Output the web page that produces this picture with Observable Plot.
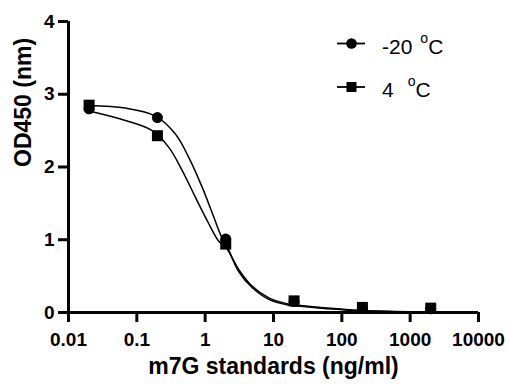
<!DOCTYPE html>
<html>
<head>
<meta charset="utf-8">
<script src="https://cdn.jsdelivr.net/npm/d3@7"></script>
<script src="https://cdn.jsdelivr.net/npm/@observablehq/plot@0.6"></script>
<style>
  html, body { margin: 0; padding: 0; background: #fff; }
  svg { display: block; }
</style>
</head>
<body>
<div id="chart"></div>
<script>
// ---- data ----
const seriesNames = ["-20", "4"];          // temperatures (°C)
const concentrations = [0.02, 0.2, 2, 20, 200, 2000];   // ng/ml
const odNeg20 = [2.80, 2.68, 1.01, 0.15, 0.06, 0.05];
const od4 = [2.85, 2.43, 0.94, 0.16, 0.07, 0.06];

// fitted curves
const fitXNeg20 = [0.02, 0.068, 0.188, 0.369, 0.577, 0.906, 1.34, 1.68, 2.0, 3.11, 4.9, 8.57, 16.8, 25, 49, 96, 170, 600, 2000];
const fitYNeg20 = [2.845, 2.81, 2.70, 2.45, 2.13, 1.72, 1.31, 1.07, 0.95, 0.56, 0.34, 0.18, 0.10, 0.085, 0.06, 0.04, 0.025, 0.012, 0.008];
const fitX4 = [0.02, 0.068, 0.168, 0.294, 0.462, 0.723, 1.13, 1.58, 2.0, 3.11, 4.9, 8.57, 16.8, 25, 49, 96, 170, 600, 2000];
const fitY4 = [2.77, 2.64, 2.50, 2.27, 1.95, 1.58, 1.22, 0.98, 0.90, 0.59, 0.36, 0.20, 0.115, 0.095, 0.07, 0.048, 0.03, 0.015, 0.01];

const xTicks = [0.01, 0.1, 1, 10, 100, 1000, 10000];
const yTicks = [0, 1, 2, 3, 4];
const xTitle = "m7G standards (ng/ml)";
const yTitle = "OD450 (nm)";

// ---- build tables ----
const pts = (xs, ys, s) => xs.map((x, i) => ({x, y: ys[i], s}));
const pNeg20 = pts(concentrations, odNeg20, seriesNames[0]);
const p4 = pts(concentrations, od4, seriesNames[1]);
const fNeg20 = pts(fitXNeg20, fitYNeg20, seriesNames[0]);
const f4 = pts(fitX4, fitY4, seriesNames[1]);

const FONT = "'Liberation Sans', Arial, Helvetica, sans-serif";

const svg = Plot.plot({
  width: 509,
  height: 390,
  marginTop: 21,
  marginBottom: 78,
  marginLeft: 68,
  marginRight: 31,
  style: {fontFamily: FONT, fontSize: "19px", fontWeight: "bold", color: "black", background: "white"},
  x: {type: "log", domain: [0.01, 10000]},
  y: {domain: [0, 4]},
  marks: [
    Plot.line(fNeg20, {x: "x", y: "y", curve: "catmull-rom", stroke: "black", strokeWidth: 1.5}),
    Plot.line(f4, {x: "x", y: "y", curve: "catmull-rom", stroke: "black", strokeWidth: 1.5}),
    Plot.dot(pNeg20, {x: "x", y: "y", symbol: "circle", r: 5.5, fill: "black", stroke: null}),
    Plot.dot(p4, {x: "x", y: "y", symbol: "square", r: 6.2, fill: "black", stroke: null}),
    Plot.ruleX([0.01], {stroke: "black", strokeWidth: 3}),
    Plot.ruleY([0], {stroke: "black", strokeWidth: 3}),
    Plot.axisX({ticks: xTicks, tickFormat: d => String(d), tickSize: 10, tickPadding: 10, strokeWidth: 3, fontSize: 19, fontWeight: "bold", label: null}),
    Plot.axisY({ticks: yTicks, tickFormat: d => String(d), tickSize: 10, tickPadding: 4, strokeWidth: 3, fontSize: 19, fontWeight: "bold", label: null}),
    Plot.text([xTitle], {text: d => d, frameAnchor: "bottom", dy: 61, fontSize: 23, fontWeight: "bold"}),
    Plot.text([yTitle], {text: d => d, frameAnchor: "left", rotate: -90, dx: -45, fontSize: 23, fontWeight: "bold"})
  ]
});

// ---- legend ----
const leg = d3.select(svg).append("g")
  .attr("font-family", FONT).attr("font-size", 21).attr("font-weight", "normal")
  .attr("fill", "black").attr("text-anchor", "start");
const rowsY = [43.5, 87];
const gaps = [8, 14];
seriesNames.forEach((name, i) => {
  const cy = rowsY[i];
  leg.append("line").attr("x1", 337).attr("x2", 365).attr("y1", cy).attr("y2", cy)
    .attr("stroke", "black").attr("stroke-width", 1.8);
  if (i === 0) {
    leg.append("circle").attr("cx", 351.5).attr("cy", cy).attr("r", 5.3).attr("fill", "black");
  } else {
    leg.append("rect").attr("x", 346.5).attr("y", cy - 5).attr("width", 10).attr("height", 10).attr("fill", "black");
  }
  const t = leg.append("text").attr("x", 382).attr("y", cy + 10);
  t.append("tspan").text(name);
  t.append("tspan").attr("dx", gaps[i]).attr("dy", -11).attr("font-size", 14).text("o");
  t.append("tspan").attr("dy", 11).text("C");
});

document.getElementById("chart").appendChild(svg);
</script>
</body>
</html>
